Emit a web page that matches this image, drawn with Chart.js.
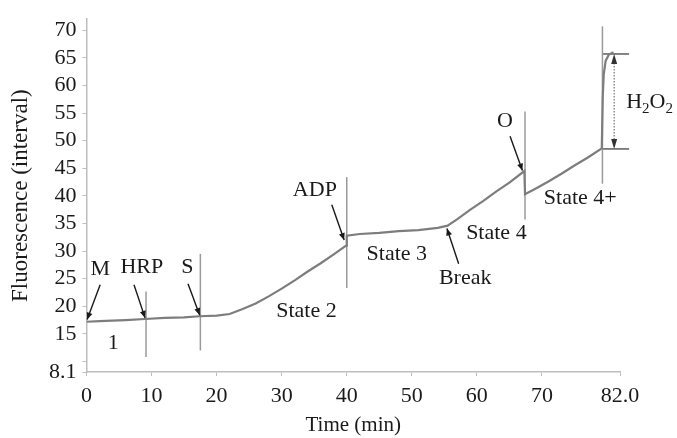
<!DOCTYPE html>
<html>
<head>
<meta charset="utf-8">
<script src="https://cdn.jsdelivr.net/npm/chart.js@4"></script>
<style>
  html, body { margin: 0; padding: 0; background: #fff; }
  #wrap { width: 677px; height: 438px; }
</style>
</head>
<body>
<div id="wrap"><canvas id="chart"></canvas></div>
<script>
// ---- trace ----
const timeMin = [0, 2, 4, 6, 9, 12, 15, 17.4, 20, 22, 24, 26, 28, 30, 32, 34, 36, 38, 39.9,
  40.0, 42, 45, 48, 51, 54, 55.5, 57, 59, 61, 63, 65, 67.3,
  67.4, 69, 71, 73, 75, 77, 79.2, 79.35, 79.5, 79.8, 80.3, 81];
const fluorescence = [17.2, 17.3, 17.4, 17.5, 17.7, 17.9, 18.0, 18.2, 18.3, 18.6, 19.5, 20.5, 21.8, 23.2, 24.7, 26.3, 27.8, 29.4, 31.0,
  32.8, 33.1, 33.3, 33.6, 33.8, 34.2, 34.6, 35.8, 37.5, 39.1, 40.8, 42.4, 44.5,
  40.3, 41.3, 42.6, 44.0, 45.5, 46.9, 48.6, 58.0, 62.0, 64.5, 65.6, 66.0];

// ---- axis ticks ----
const yTicks = [8.1, 10, 15, 20, 25, 30, 35, 40, 45, 50, 55, 60, 65, 70];
const xTicks = [0, 10, 20, 30, 40, 50, 60, 70, 82];

// ---- injection marks (vertical lines) ----
const markTime = [9.15, 17.5, 40.0, 67.4, 79.3];
const markLow = [10.8, 12.0, 23.3, 35.7, 42.2];
const markHigh = [22.7, 29.5, 43.4, 55.3, 70.7];

// ---- arrows with their labels ----
const arrowNames = ["M", "HRP", "S", "ADP", "Break", "O"];
const arrowFrom = [[2.1, 23.9], [7.3, 23.9], [15.6, 24.1], [37.7, 38.4], [57.2, 27.7], [65.1, 50.8]];
const arrowTo = [[0.1, 17.6], [9.0, 17.9], [17.4, 18.4], [39.6, 32.0], [55.4, 34.1], [67.0, 44.6]];
const arrowLabelAt = [[2.1, 26.8], [8.5, 27.1], [15.5, 27.1], [35.1, 41.0], [58.2, 25.0], [64.3, 53.5]];

// ---- state labels ----
const stateNames = ["1", "State 2", "State 3", "State 4", "State 4+"];
const stateAt = [[4.1, 13.3], [33.8, 19.1], [47.7, 29.5], [63.0, 33.3], [75.9, 39.6]];

// ---- H2O2 bracket ----
const h2o2Low = 48.5;
const h2o2High = 65.7;
const h2o2Span = [79.3, 83.4];
const h2o2ArrowTime = 81.1;

const FONT = "'Liberation Serif', 'Times New Roman', serif";

const datasets = [{
  data: timeMin.map((t, i) => ({ x: t, y: fluorescence[i] })),
  borderColor: "#7d7d7d",
  borderWidth: 2.2,
  pointRadius: 0,
  tension: 0
}];
markTime.forEach((t, i) => {
  datasets.push({
    data: [{ x: t, y: markLow[i] }, { x: t, y: markHigh[i] }],
    borderColor: "#9a9a9a",
    borderWidth: 1.5,
    pointRadius: 0,
    clip: false
  });
});
[h2o2Low, h2o2High].forEach(v => {
  datasets.push({
    data: [{ x: h2o2Span[0], y: v }, { x: h2o2Span[1], y: v }],
    borderColor: "#333",
    borderWidth: 1.2,
    pointRadius: 0,
    clip: false
  });
});

function arrowHead(ctx, x1, y1, x2, y2, len, half) {
  const a = Math.atan2(y2 - y1, x2 - x1);
  ctx.beginPath();
  ctx.moveTo(x2, y2);
  ctx.lineTo(x2 - len * Math.cos(a) + half * Math.sin(a), y2 - len * Math.sin(a) - half * Math.cos(a));
  ctx.lineTo(x2 - len * Math.cos(a) - half * Math.sin(a), y2 - len * Math.sin(a) + half * Math.cos(a));
  ctx.closePath();
  ctx.fill();
}

const notes = {
  id: "notes",
  afterDatasetsDraw(chart) {
    const { ctx, scales: { x, y } } = chart;
    ctx.save();
    ctx.fillStyle = "#1a1a1a";
    ctx.strokeStyle = "#1a1a1a";
    ctx.font = "22px " + FONT;
    ctx.textAlign = "center";
    ctx.textBaseline = "middle";

    // arrows
    arrowNames.forEach((name, i) => {
      const x1 = x.getPixelForValue(arrowFrom[i][0]), y1 = y.getPixelForValue(arrowFrom[i][1]);
      const x2 = x.getPixelForValue(arrowTo[i][0]), y2 = y.getPixelForValue(arrowTo[i][1]);
      ctx.lineWidth = 1.4;
      ctx.beginPath();
      ctx.moveTo(x1, y1);
      ctx.lineTo(x2, y2);
      ctx.stroke();
      arrowHead(ctx, x1, y1, x2, y2, 7, 3);
      ctx.fillText(name, x.getPixelForValue(arrowLabelAt[i][0]), y.getPixelForValue(arrowLabelAt[i][1]));
    });

    // state labels
    stateNames.forEach((name, i) => {
      ctx.fillText(name, x.getPixelForValue(stateAt[i][0]), y.getPixelForValue(stateAt[i][1]));
    });

    // H2O2 dotted double arrow
    const ax = x.getPixelForValue(h2o2ArrowTime);
    const yTop = y.getPixelForValue(h2o2High), yBot = y.getPixelForValue(h2o2Low);
    ctx.strokeStyle = "#555";
    ctx.fillStyle = "#333";
    ctx.lineWidth = 1;
    ctx.setLineDash([1.5, 1.5]);
    ctx.beginPath();
    ctx.moveTo(ax, yTop + 6);
    ctx.lineTo(ax, yBot - 6);
    ctx.stroke();
    ctx.setLineDash([]);
    arrowHead(ctx, ax, yBot, ax, yTop, 10, 3);
    arrowHead(ctx, ax, yTop, ax, yBot, 10, 3);

    // H2O2 label with subscripts
    ctx.fillStyle = "#1a1a1a";
    ctx.textAlign = "left";
    ctx.textBaseline = "alphabetic";
    let tx = ax + 12;
    const base = (yTop + yBot) / 2 + 7;
    [["H", false], ["2", true], ["O", false], ["2", true]].forEach(([s, sub]) => {
      ctx.font = (sub ? "15px " : "22px ") + FONT;
      ctx.fillText(s, tx, sub ? base + 5 : base);
      tx += ctx.measureText(s).width;
    });
    ctx.restore();
  }
};

new Chart(document.getElementById("chart"), {
  type: "line",
  data: { datasets },
  options: {
    responsive: true,
    maintainAspectRatio: false,
    animation: false,
    layout: { padding: { top: 13, right: 57, left: 0, bottom: 0 } },
    plugins: { legend: { display: false }, tooltip: { enabled: false } },
    scales: {
      x: {
        type: "linear",
        min: 0,
        max: 82,
        afterBuildTicks: s => { s.ticks = xTicks.map(v => ({ value: v })); },
        afterFit: s => { s.height = 66; },
        grid: { drawOnChartArea: false, color: "#bdbdbd", tickLength: 4 },
        border: { color: "#bdbdbd", width: 1.5 },
        ticks: {
          color: "#1a1a1a",
          font: { family: FONT, size: 22 },
          padding: 7,
          maxRotation: 0,
          autoSkip: false,
          callback: v => v === 82 ? "82.0" : String(v)
        },
        title: {
          display: true,
          text: "Time (min)",
          color: "#1a1a1a",
          font: { family: FONT, size: 21 },
          padding: { top: 0, bottom: 0 }
        }
      },
      y: {
        min: 8.1,
        max: 72,
        afterBuildTicks: s => { s.ticks = yTicks.map(v => ({ value: v })); },
        afterFit: s => { s.width = 86.5; },
        grid: { drawOnChartArea: false, color: "#bdbdbd", tickLength: 4 },
        border: { color: "#bdbdbd", width: 1.5 },
        ticks: {
          color: "#1a1a1a",
          font: { family: FONT, size: 22 },
          padding: 6,
          autoSkip: false,
          callback: v => v === 10 ? "" : String(v)
        },
        title: {
          display: true,
          text: "Fluorescence (interval)",
          color: "#1a1a1a",
          font: { family: FONT, size: 23 },
          padding: { top: 7, bottom: 0 }
        }
      }
    }
  },
  plugins: [notes]
});
</script>
</body>
</html>
